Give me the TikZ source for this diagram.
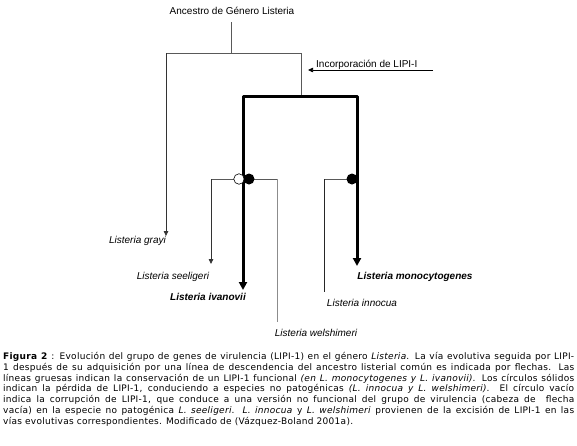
\documentclass[tikz,border=0pt]{standalone}
\usepackage{fontspec}
\setmainfont{Liberation Sans}
\newfontfamily\capfont[LetterSpace=3]{DejaVu Sans}
\usetikzlibrary{arrows.meta}
\begin{document}
\begin{tikzpicture}[x=1pt,y=-1pt,
  thinln/.style={draw=black!65,line width=0.8pt},
  thickln/.style={draw=black,line width=3pt},
  lbl/.style={font=\fontsize{10}{12}\selectfont\itshape,inner sep=0pt},
  blbl/.style={font=\fontsize{10}{12}\selectfont\bfseries\itshape,inner sep=0pt},
  thinarr/.style={-{Triangle[length=5pt,width=4.5pt]}},
  thickarr/.style={-{Triangle[length=8pt,width=8pt]}},
  dotfill/.style={circle,fill=black,inner sep=0pt,minimum size=11pt},
  dotopen/.style={circle,draw=black,line width=0.6pt,fill=white,inner sep=0pt,minimum size=10.5pt}]
\useasboundingbox (0,0) rectangle (577,445);
% title
\node[inner sep=0pt,font=\fontsize{10}{12}\selectfont] (anc) at (232,11) {Ancestro de Género Listeria};
% coordinates
\coordinate (a1) at (231,22);
\coordinate (a2) at (231,53);
\coordinate (gL) at (166,53);
\coordinate (gR) at (301,53);
\coordinate (gT) at (166,236);
\coordinate (tC) at (301,96);
\coordinate (tL) at (243,96);
\coordinate (tR) at (357,96);
\coordinate (ivT) at (243,290);
\coordinate (moT) at (357,266);
\coordinate (j1L) at (211,179);
\coordinate (j1R) at (277,179);
\coordinate (seT) at (211,264);
\coordinate (weT) at (277,322);
\coordinate (j2L) at (324,179);
\coordinate (j2R) at (352,179);
\coordinate (inT) at (324,292);
\coordinate (inc1) at (433,70);
\coordinate (inc2) at (308,70);
% thin gray lines
\draw[thinln] (a1) -- (a2);
\draw[thinln] (gR) -- (gL);
\draw[thinln,thinarr,draw=black!80,fill=black] (gL) -- (gT);
\draw[thinln] (gR) -- (tC);
\draw[thinln] (j1L) -- (j1R);
\draw[thinln,thinarr,draw=black!80,fill=black] (j1L) -- (seT);
\draw[thinln,draw=black!45] (j1R) -- (weT);
\draw[thinln] (j2L) -- (j2R);
\draw[thinln,draw=black!85] (j2L) -- (inT);
% thick lines
\draw[thickln,line join=round] (243,200) -- (tL) -- (tR) -- (357,200);
\draw[thickln,thickarr] (243,198) -- (ivT);
\draw[thickln,thickarr] (357,198) -- (moT);
% circles
\node[dotopen] (c1) at (239,179) {};
\node[dotfill] (c2) at (249,179) {};
\node[dotfill] (c3) at (352,179) {};
% incorporation arrow
\draw[black,line width=0.7pt,-{Triangle[length=5pt,width=4.5pt]}] (inc1) -- (inc2);
\node[inner sep=0pt,anchor=base west,font=\fontsize{10}{12}\selectfont] (inc) at (316,67) {Incorporación de LIPI-I};
% labels
\node[lbl,anchor=east] (gra) at (166,241) {Listeria grayi};
\node[lbl] (see) at (173,277) {Listeria seeligeri};
\node[blbl] (iva) at (208,297) {Listeria ivanovii};
\node[lbl] (wel) at (316,333) {Listeria welshimeri};
\node[lbl] (inn) at (362,303) {Listeria innocua};
\node[blbl] (mon) at (415,277) {Listeria monocytogenes};
% caption
\node[anchor=north west,inner sep=0pt,text width=571pt,align=justify,
  font=\capfont\fontsize{9.0}{10.8}\selectfont] (cap) at (3,352) {\hyphenpenalty=10000\exhyphenpenalty=10000\hbadness=10000\hfuzz=20pt
\textbf{Figura 2} : Evolución del grupo de genes de virulencia (LIPI-1) en el género \textit{Listeria}. La vía evolutiva seguida por LIPI-\linebreak
1 después de su adquisición por una línea de descendencia del ancestro listerial común es indicada por flechas. Las\linebreak
líneas gruesas indican la conservación de un LIPI-1 funcional \textit{(en L. monocytogenes y L. ivanovii)}. Los círculos sólidos\linebreak
indican la pérdida de LIPI-1, conduciendo a especies no patogénicas \textit{(L. innocua y L. welshimeri)}.\ \ El círculo vacío\linebreak
indica la corrupción de LIPI-1, que conduce a una versión no funcional del grupo de virulencia (cabeza de\ \ flecha\linebreak
vacía) en la especie no patogénica \textit{L. seeligeri}. \textit{L. innocua} y \textit{L. welshimeri} provienen de la excisión de LIPI-1 en las\linebreak
vías evolutivas correspondientes. Modificado de (Vázquez-Boland 2001a).};
\end{tikzpicture}
\end{document}
